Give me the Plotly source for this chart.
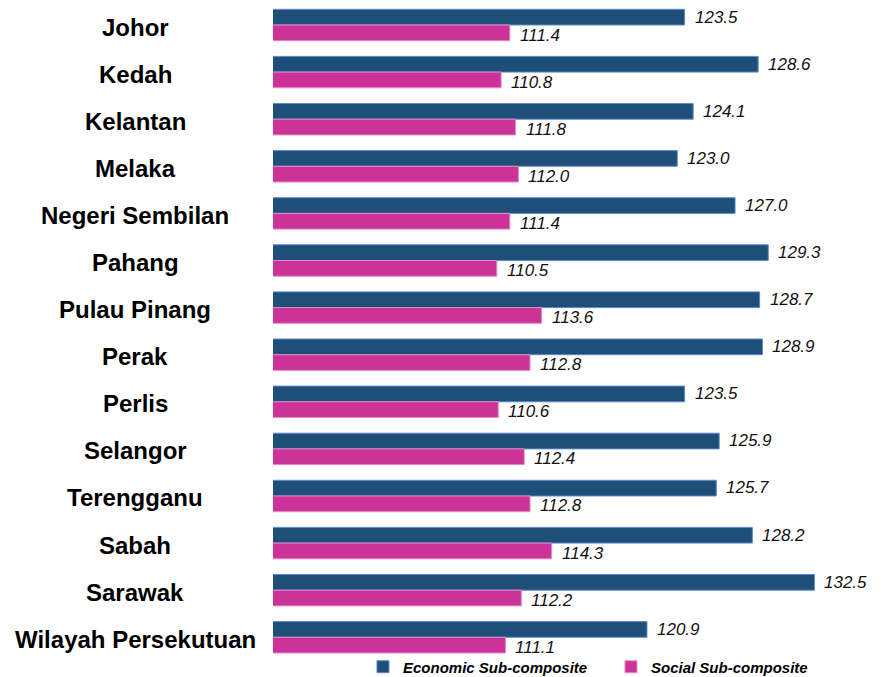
import plotly.graph_objects as go

states = ["Johor", "Kedah", "Kelantan", "Melaka", "Negeri Sembilan", "Pahang",
          "Pulau Pinang", "Perak", "Perlis", "Selangor", "Terengganu", "Sabah",
          "Sarawak", "Wilayah Persekutuan"]
economic = [123.5, 128.6, 124.1, 123.0, 127.0, 129.3, 128.7, 128.9, 123.5, 125.9,
            125.7, 128.2, 132.5, 120.9]
social = [111.4, 110.8, 111.8, 112.0, 111.4, 110.5, 113.6, 112.8, 110.6, 112.4,
          112.8, 114.3, 112.2, 111.1]

FONT = "Arial, 'Liberation Sans', sans-serif"
ECON_COLOR = "#1F4E79"
SOC_COLOR = "#CC3399"

fig = go.Figure()
fig.add_trace(go.Bar(
    y=states, x=economic, orientation="h", name="Economic Sub-composite",
    marker=dict(color=ECON_COLOR, line=dict(color="#5B8BD0", width=1)),
))
fig.add_trace(go.Bar(
    y=states, x=social, orientation="h", name="Social Sub-composite",
    marker=dict(color=SOC_COLOR, line=dict(color="#E58CC5", width=1)),
))

annotations = []
for s in states:
    annotations.append(dict(
        x=-0.233, xref="paper", y=s, yref="y", text=s, showarrow=False,
        xanchor="center", yanchor="middle", yshift=-2,
        font=dict(family=FONT, size=24, color="#000000", weight="bold"),
    ))
for s, v in zip(states, economic):
    annotations.append(dict(
        x=v, xref="x", y=s, yref="y", text=f"{v:.1f}", showarrow=False,
        xanchor="left", yanchor="middle", xshift=8, yshift=8,
        font=dict(family=FONT, size=17, color="#111111", style="italic"),
    ))
for s, v in zip(states, social):
    annotations.append(dict(
        x=v, xref="x", y=s, yref="y", text=f"{v:.1f}", showarrow=False,
        xanchor="left", yanchor="middle", xshift=8, yshift=-10,
        font=dict(family=FONT, size=17, color="#111111", style="italic"),
    ))

fig.update_layout(
    width=865, height=677,
    margin=dict(l=265, r=7.55, t=0, b=30, autoexpand=False),
    paper_bgcolor="white", plot_bgcolor="white",
    barmode="group", bargap=0.333, bargroupgap=0,
    xaxis=dict(range=[95, 136], visible=False, showgrid=False, zeroline=False),
    yaxis=dict(range=[13.376, -0.361], showticklabels=False, showgrid=False,
               zeroline=False, showline=False, ticks=""),
    showlegend=True,
    legend=dict(
        orientation="h", x=0.152, xanchor="left", y=-0.0185, yanchor="middle",
        bgcolor="rgba(0,0,0,0)", entrywidth=203, itemwidth=30,
        font=dict(family=FONT, size=15, color="#000000", weight="bold", style="italic"),
        traceorder="normal",
    ),
    annotations=annotations,
)

fig.write_html("out.html")
